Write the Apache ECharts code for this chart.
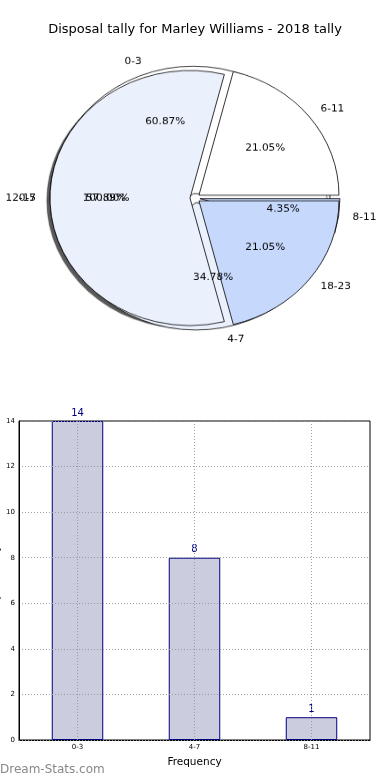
<!DOCTYPE html>
<html><head><meta charset="utf-8">
<script src="https://cdn.jsdelivr.net/npm/echarts@6/dist/echarts.min.js"></script>
<style>
html,body{margin:0;padding:0;background:#fff;}
#main{position:absolute;left:0;top:0;width:390px;height:780px;}
#pie{position:absolute;left:0;top:0;width:390px;height:400px;transform-origin:195px 198px;transform:scaleY(0.911);}
</style></head><body>
<div id="main"></div><div id="pie"></div>
<script>
// ---- data ----
const titleText = 'Disposal tally for Marley Williams - 2018 tally';
const barCategories = ['0-3', '4-7', '8-11'];
const barValues = [14, 8, 1];
const yTickMin = 0, yTickMax = 14, yTickStep = 2;
// overlapping pies as drawn in the reference (bottom to top)
const pieLabelsD = ['0-5'];
const pieValuesD = [1];
const pieLabelsC = ['0-3', '4-7', '8-11'];
const pieValuesC = [14, 8, 1];
const pieLabelsB = ['6-11', '12-17', '18-23'];
const pieValuesB = [4, 11, 4];

// ---- styles ----
const FONT = 'DejaVu Sans';
const sliceColors = ['#ffffff', '#eaf0fc', '#c6d9fd'];
const R = 140, CENTER = [195, 198], EXPLODE = 5;

function basePie(extra) {
  return Object.assign({
    type: 'pie', center: CENTER, radius: R, startAngle: 0, clockwise: false,
    selectedMode: 'multiple', selectedOffset: EXPLODE, avoidLabelOverlap: false,
    labelLayout: {hideOverlap: false},
    silent: true, animation: false
  }, extra);
}
function shapePie(labels, values, shadow) {
  const st = {borderColor: '#000', borderWidth: 0.8};
  if (shadow) Object.assign(st, {shadowColor: 'rgba(0,0,0,0.65)', shadowBlur: 1, shadowOffsetX: -3, shadowOffsetY: 3});
  return basePie({
    z: 2,
    label: {show: false}, labelLine: {show: false},
    itemStyle: st,
    select: {itemStyle: st},
    data: values.map((v, i) => ({name: labels[i], value: v, selected: true,
      itemStyle: {color: sliceColors[i % 3]}, select: {itemStyle: {color: sliceColors[i % 3]}}}))
  });
}
function labelPie(labels, values, kind) {
  const total = values.reduce((a, b) => a + b, 0);
  const txt = {color: '#000', fontSize: 10.5, fontFamily: FONT, textBorderWidth: 0};
  const clear = {color: 'rgba(0,0,0,0)', borderWidth: 0};
  return basePie({
    z: 5,
    radius: kind === 'pct' ? [22, R] : [0, R],
    itemStyle: clear, select: {itemStyle: clear},
    label: kind === 'pct'
      ? Object.assign({show: true, position: 'inside', formatter: p => (p.value / total * 100).toFixed(2) + '%'}, txt)
      : Object.assign({show: true, position: 'outside', distanceToLabelLine: 0, formatter: '{b}'}, txt),
    labelLine: {show: false, length: 14, length2: 0},
    data: values.map((v, i) => ({name: labels[i], value: v, selected: true}))
  });
}

const pie = echarts.init(document.getElementById('pie'));
pie.setOption({
  animation: false,
  series: [
    shapePie(pieLabelsD, pieValuesD, true),
    shapePie(pieLabelsC, pieValuesC, false),
    shapePie(pieLabelsB, pieValuesB, false),
    labelPie(pieLabelsD, pieValuesD, 'pct'), labelPie(pieLabelsD, pieValuesD, 'name'),
    labelPie(pieLabelsC, pieValuesC, 'pct'), labelPie(pieLabelsC, pieValuesC, 'name'),
    labelPie(pieLabelsB, pieValuesB, 'pct'), labelPie(pieLabelsB, pieValuesB, 'name')
  ]
});

const main = echarts.init(document.getElementById('main'));
const grid = 'rgba(150,150,150,0.9)';
main.setOption({
  animation: false,
  title: {text: titleText, left: 'center', top: 18,
    textStyle: {fontFamily: FONT, fontSize: 13, fontWeight: 'normal', color: '#000'}},
  graphic: [{type: 'text', left: 0, top: 764,
    style: {text: 'Dream-Stats.com', fill: '#888', font: '12px "DejaVu Sans"'}}],
  grid: {left: 19, right: 20, top: 421, bottom: 40, show: true, borderColor: '#000', borderWidth: 1,
    containLabel: false, outerBoundsMode: 'none'},
  xAxis: {
    type: 'category', data: barCategories,
    name: 'Frequency', nameLocation: 'middle', nameGap: 17, nameMoveOverlap: false,
    nameTextStyle: {fontSize: 10.5, color: '#000', fontFamily: FONT},
    axisLine: {lineStyle: {color: '#000', width: 1}},
    axisTick: {show: false},
    axisLabel: {fontSize: 7, color: '#000', margin: 4, fontFamily: FONT}
  },
  yAxis: {
    type: 'value', min: yTickMin, max: yTickMax, interval: yTickStep, z: 3,
    name: 'Disposal Tally', nameLocation: 'middle', nameGap: 17, nameMoveOverlap: false,
    nameTextStyle: {fontSize: 10.5, color: '#000', fontFamily: FONT},
    axisLine: {show: true, lineStyle: {color: '#000', width: 1}},
    axisTick: {show: false},
    axisLabel: {fontSize: 7, color: '#000', margin: 4, fontFamily: FONT},
    splitLine: {show: true, lineStyle: {type: [1, 2], color: grid, width: 1}}
  },
  series: [{
    type: 'bar', data: barValues, barWidth: '44%', z: 2,
    itemStyle: {color: '#ccccdf', borderColor: '#000080', borderWidth: 1},
    label: {show: true, position: 'top', distance: 3, color: '#000080', fontSize: 10, fontFamily: FONT},
    markLine: {silent: true, symbol: 'none', z: 4, label: {show: false},
      lineStyle: {type: [1, 2], color: grid, width: 1},
      data: barCategories.map(c => ({xAxis: c}))}
  }]
});
</script>
</body></html>
